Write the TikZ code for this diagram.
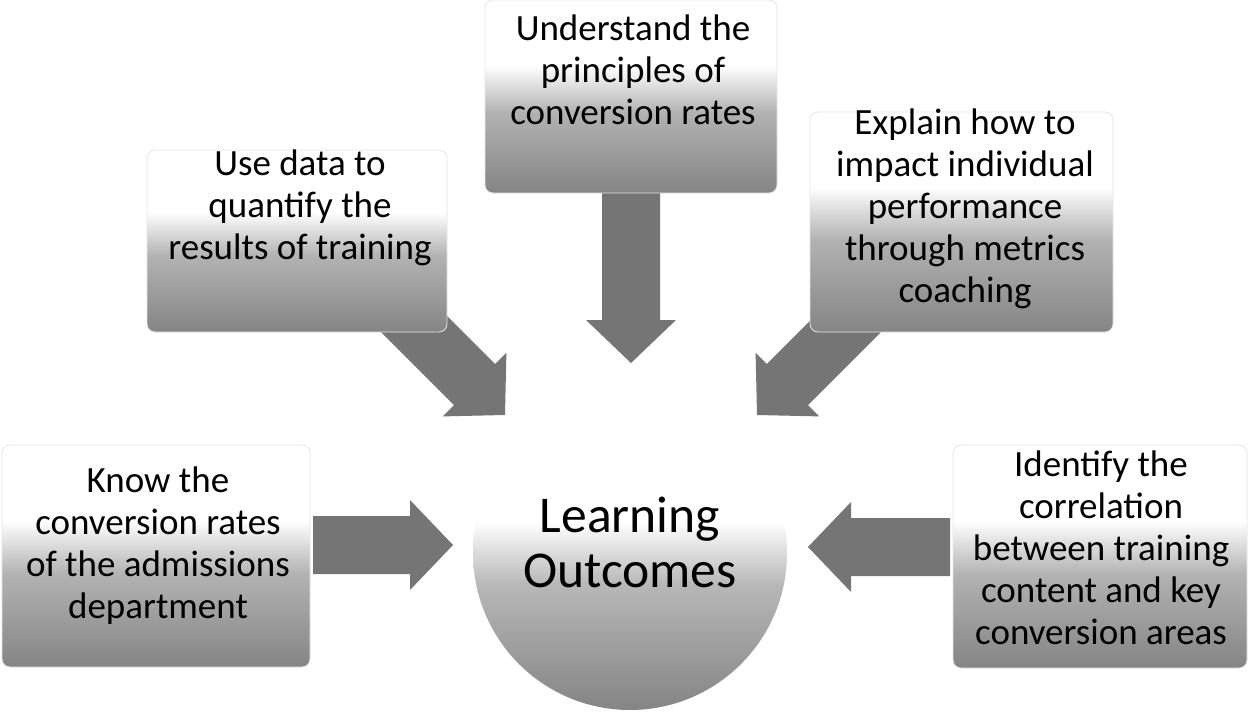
\documentclass[tikz,border=0pt]{standalone}
\usepackage{fontspec}
\setmainfont{Carlito}
\usetikzlibrary{calc}

% white over the upper part, fading into grey towards the bottom
\pgfdeclareverticalshading{panelfade}{100bp}{color(0bp)=(black!48); color(25bp)=(black!48); color(46bp)=(black!30); color(58bp)=(white); color(100bp)=(white)}
\pgfdeclareverticalshading{discfade}{100bp}{color(0bp)=(black!48); color(25bp)=(black!48); color(45bp)=(black!28); color(55bp)=(white); color(100bp)=(white)}

\tikzset{
  panel/.style={rectangle, rounded corners=4pt, shading=panelfade, draw=black!10, line width=0.4pt, inner sep=0pt},
  label/.style={align=center, inner sep=0pt, font=\fontsize{18.5}{21}\selectfont},
  arrowbody/.style={fill=black!54},
  hub/.style={circle, shading=discfade, inner sep=0pt, minimum size=157pt},
  hubtext/.style={align=center, inner sep=0pt, font=\fontsize{25.8}{27.5}\selectfont}
}

% block arrow from #1 to the tip #2
\newcommand{\blockarrow}[2]{%
  \coordinate (bahead) at ($(#2)!21.5pt!(#1)$);
  \fill[arrowbody] ($(#1)!14.5pt!90:(#2)$) -- ($(bahead)!14.5pt!90:(#2)$)
    -- ($(bahead)!22.5pt!90:(#2)$) -- (#2) -- ($(bahead)!22.5pt!-90:(#2)$)
    -- ($(bahead)!14.5pt!-90:(#2)$) -- ($(#1)!14.5pt!-90:(#2)$) -- cycle;}

\begin{document}
\begin{tikzpicture}[x=0.5pt,y=-0.5pt]
\useasboundingbox (0,0) rectangle (1249,712);

% arrow ends
\coordinate (aTs) at (631,150);  \coordinate (aTt) at (631,363);
\coordinate (aLs) at (360,270);  \coordinate (aLt) at (505,415);
\coordinate (aRs) at (902,270);  \coordinate (aRt) at (757,415);
\coordinate (aWs) at (313,545);  \coordinate (aWt) at (453,545);
\coordinate (aEs) at (950,547);  \coordinate (aEt) at (808,547);

% arrows converging on the centre
\blockarrow{aTs}{aTt}
\blockarrow{aLs}{aLt}
\blockarrow{aRs}{aRt}
\blockarrow{aWs}{aWt}
\blockarrow{aEs}{aEt}

% panels
\node[panel, minimum width=146pt, minimum height=96.5pt] (bTop) at (631,96.5) {};
\node[panel, minimum width=150pt, minimum height=91pt] (bLT) at (297,241) {};
\node[panel, minimum width=151.5pt, minimum height=110pt] (bRT) at (961.5,222) {};
\node[panel, minimum width=154pt, minimum height=111pt] (bLB) at (156,556) {};
\node[panel, minimum width=147pt, minimum height=111.5pt] (bRB) at (1100,556.5) {};

% centre disc
\node[hub] (hub) at (630,553) {};

% texts
\node[label] (tTop) at (633,69.5) {Understand the\\principles of\\conversion rates};
\node[label] (tLT) at (300,208) {Use data to\\quantify the\\results of training};
\node[label] (tRT) at (965,208.6) {Explain how to\\impact individual\\performance\\through metrics\\coaching};
\node[label] (tLB) at (158,545.5) {Know the\\conversion rates\\of the admissions\\department};
\node[label] (tRB) at (1101,548) {Identify the\\correlation\\between training\\content and key\\conversion areas};
\node[hubtext] (tHub) at (630,542) {Learning\\Outcomes};
\end{tikzpicture}
\end{document}
